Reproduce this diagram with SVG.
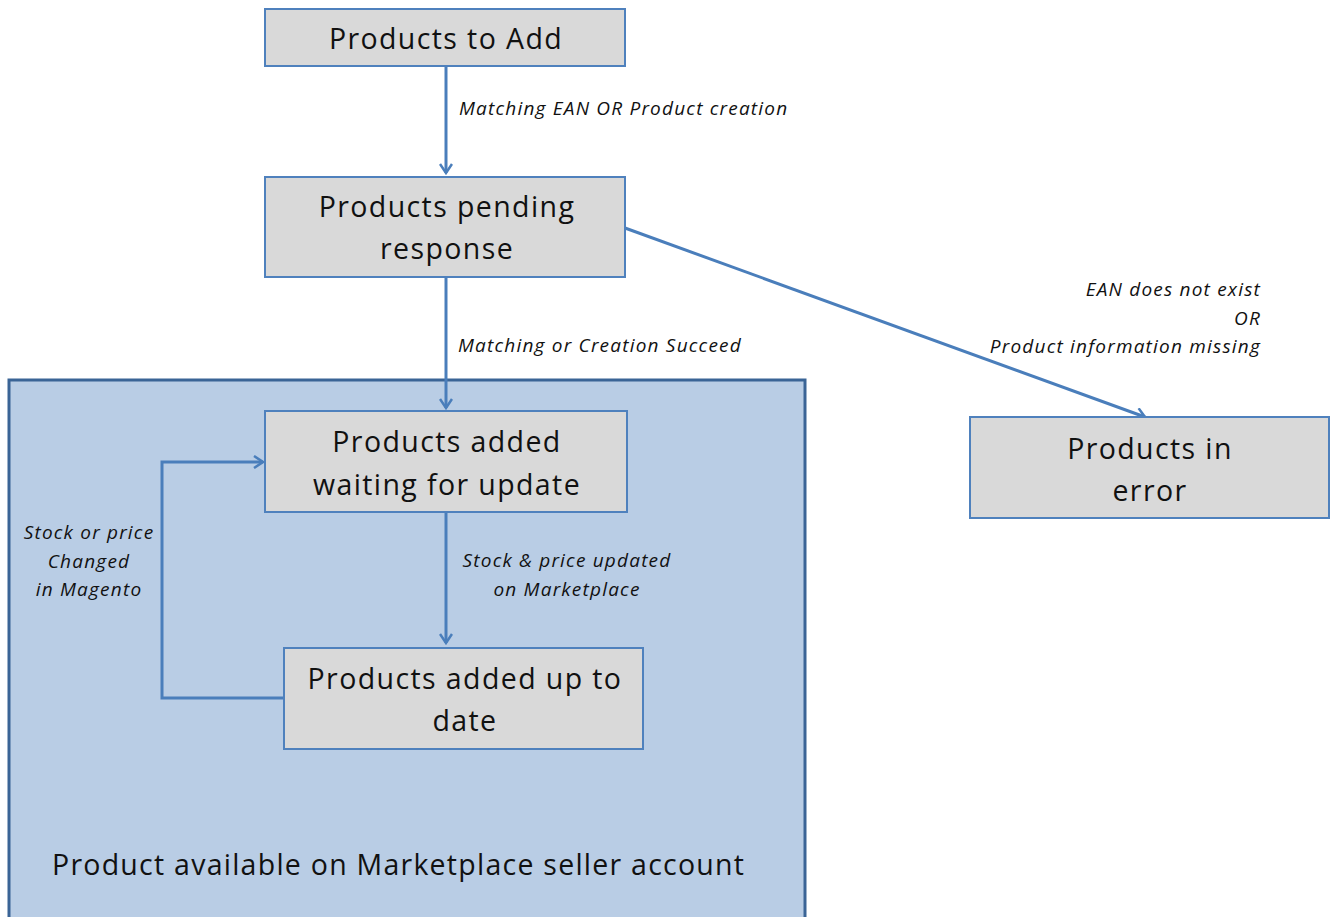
<svg xmlns="http://www.w3.org/2000/svg" width="1336" height="917" viewBox="0 0 1336 917">
<defs>
<style>
.box{fill:#d9d9d9;stroke:#4f81bd;stroke-width:2}
.t{font-family:"Open Sans",Lato,sans-serif;font-size:28.5px;letter-spacing:1.4px;fill:#111;text-anchor:middle}
.l{font-family:"Open Sans",Lato,sans-serif;font-size:19px;letter-spacing:1.2px;font-style:italic;fill:#111}
.c{fill:none;stroke:#4a7ebb;stroke-width:3}
</style>
<marker id="ah" viewBox="0 0 14 14" refX="12" refY="7" markerWidth="14" markerHeight="14" markerUnits="userSpaceOnUse" orient="auto">
<path d="M3,1 L12,7 L3,13" fill="none" stroke="#4a7ebb" stroke-width="2.5"/>
</marker>
</defs>
<rect width="1336" height="917" fill="#fff"/>
<g id="container">
<rect x="9" y="380" width="796" height="545" fill="#b9cde5" stroke="#3a6496" stroke-width="3"/>
<text class="t" x="52" y="875" style="text-anchor:start;letter-spacing:1.25px">Product available on Marketplace seller account</text>
</g>
<g id="connectors">
<path class="c" d="M446,66 V173" marker-end="url(#ah)"/>
<path class="c" d="M446,277 V408" marker-end="url(#ah)"/>
<path class="c" d="M446,512 V643" marker-end="url(#ah)"/>
<path class="c" d="M284,698 H162 V462 H263" marker-end="url(#ah)"/>
<path class="c" d="M625,228 L1145,417" marker-end="url(#ah)"/>
<text class="l" x="459" y="115">Matching EAN OR Product creation</text>
<text class="l" x="458" y="352">Matching or Creation Succeed</text>
<text class="l" x="567" y="567" text-anchor="middle">Stock &amp; price updated</text>
<text class="l" x="567" y="596" text-anchor="middle">on Marketplace</text>
<text class="l" x="89" y="539" text-anchor="middle">Stock or price</text>
<text class="l" x="89" y="568" text-anchor="middle">Changed</text>
<text class="l" x="89" y="596" text-anchor="middle">in Magento</text>
<text class="l" x="1261" y="296" text-anchor="end">EAN does not exist</text>
<text class="l" x="1261" y="325" text-anchor="end">OR</text>
<text class="l" x="1261" y="353" text-anchor="end">Product information missing</text>
</g>
<g id="n1">
<rect class="box" x="265" y="9" width="360" height="57"/>
<text class="t" x="446" y="49">Products to Add</text>
</g>
<g id="n2">
<rect class="box" x="265" y="177" width="360" height="100"/>
<text class="t" x="447" y="217">Products pending</text>
<text class="t" x="447" y="259">response</text>
</g>
<g id="n3">
<rect class="box" x="265" y="411" width="362" height="101"/>
<text class="t" x="447" y="452">Products added</text>
<text class="t" x="447" y="495">waiting for update</text>
</g>
<g id="n4">
<rect class="box" x="284" y="648" width="359" height="101"/>
<text class="t" x="465" y="689">Products added up to</text>
<text class="t" x="465" y="731">date</text>
</g>
<g id="n5">
<rect class="box" x="970" y="417" width="359" height="101"/>
<text class="t" x="1150" y="459">Products in</text>
<text class="t" x="1150" y="501">error</text>
</g>
</svg>
